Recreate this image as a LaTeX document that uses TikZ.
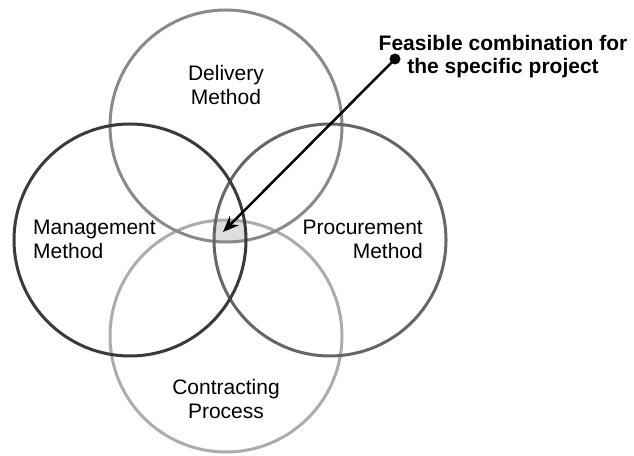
\documentclass[tikz,border=0pt]{standalone}
\usepackage{fontspec}
\setmainfont{Liberation Sans}
\usepackage{tkz-euclide}
\usetikzlibrary{arrows.meta}
\definecolor{DelivClr}{RGB}{138,138,138}
\definecolor{MgmtClr}{RGB}{58,58,58}
\definecolor{ProcClr}{RGB}{102,102,102}
\definecolor{ContrClr}{RGB}{172,172,172}
\definecolor{CoreClr}{RGB}{222,222,222}

\begin{document}
\begin{tikzpicture}[x=1pt,y=1pt,
  RingLn/.style={line width=3pt},
  CircLbl/.style={inner sep=0pt,font=\fontsize{21}{24}\selectfont},
  NoteLbl/.style={inner sep=0pt,align=center,font=\fontsize{21}{23}\selectfont\bfseries}]
\useasboundingbox (0,0) rectangle (634,455);
\tkzSetUpLine[line width=3pt,color=black]

\tkzDefPoints{226/329/D,130/215/M,330/215/P,226/119/C}
\tkzDefPoints{342/329/d,246/215/m,446/215/p,342/119/c}
\tkzDefPoints{395/396/F,223/223/T}

\begin{scope}
\tkzClipCircle(D,d)
\tkzClipCircle(M,m)
\tkzClipCircle(P,p)
\tkzFillCircle[fill=CoreClr](C,c)
\end{scope}

\tkzDrawCircle[RingLn,color=ContrClr](C,c)
\tkzDrawCircle[RingLn,color=DelivClr](D,d)
\tkzDrawCircle[RingLn,color=ProcClr](P,p)
\tkzDrawCircle[RingLn,color=MgmtClr](M,m)

\tkzDrawSegment[line width=2.5pt,color=black,-{Stealth[length=16pt,width=13pt]}](F,T)
\fill[black] (F) circle (5.5pt);

\node[CircLbl,align=center] (DelivLbl) at (226,369.6) {Delivery\\Method};
\node[CircLbl,align=left,anchor=west] (MgmtLbl) at (33,215.6) {Management\\Method};
\node[CircLbl,align=right,anchor=east] (ProcLbl) at (423,215.6) {Procurement\\Method};
\node[CircLbl,align=center] (ContrLbl) at (226,55.6) {Contracting\\Process};
\node[NoteLbl] (Note) at (503,398.5) {Feasible combination for\\the specific project};

\end{tikzpicture}
\end{document}
